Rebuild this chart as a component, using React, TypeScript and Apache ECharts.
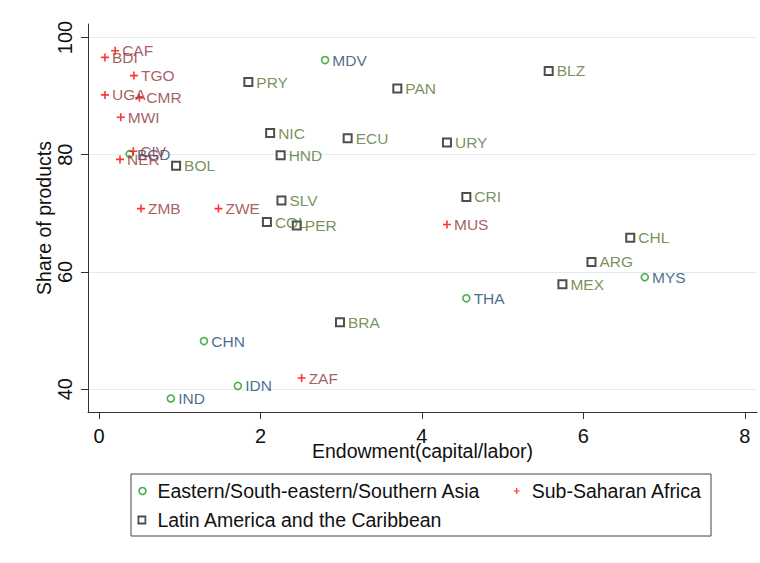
import React, { useEffect, useRef } from "react";
import * as echarts from "echarts";

const asiaNames = ["MDV", "CHN", "IDN", "IND", "THA", "MYS", "BGD"];
const asiaX = [2.8, 1.3, 1.72, 0.89, 4.55, 6.76, 0.38];
const asiaY = [96.15, 48.2, 40.55, 38.4, 55.5, 59.1, 80.1];

const africaNames = ["CAF", "BDI", "TGO", "UGA", "CMR", "MWI", "CIV", "NER", "ZMB", "ZWE", "MUS", "ZAF"];
const africaX = [0.2, 0.074, 0.433, 0.074, 0.5, 0.27, 0.425, 0.26, 0.52, 1.48, 4.31, 2.51];
const africaY = [97.74, 96.6, 93.5, 90.2, 89.7, 86.4, 80.6, 79.2, 70.8, 70.8, 68.1, 41.9];

const latamNames = ["PRY", "PAN", "BLZ", "NIC", "ECU", "URY", "HND", "BOL", "SLV", "CRI", "COL", "PER", "BRA", "CHL", "ARG", "MEX"];
const latamX = [1.85, 3.695, 5.57, 2.12, 3.08, 4.31, 2.25, 0.955, 2.26, 4.55, 2.08, 2.45, 2.985, 6.58, 6.1, 5.74];
const latamY = [92.4, 91.3, 94.3, 83.7, 82.8, 82.1, 79.9, 78.1, 72.2, 72.8, 68.5, 67.9, 51.4, 65.85, 61.7, 57.9];

const xTicks = [0, 2, 4, 6, 8];
const yTicks = [40, 60, 80, 100];

const seriesNames = [
  "Eastern/South-eastern/Southern Asia",
  "Sub-Saharan Africa",
  "Latin America and the Caribbean",
];

const FONT = '"Liberation Sans", Arial, sans-serif';
const PLUS = "path://M2.8,0H4.2V2.8H7V4.2H4.2V7H2.8V4.2H0V2.8H2.8Z";

const asiaStyle = { color: "#fff", borderColor: "#1f9a1f", borderWidth: 1.6 };
const africaStyle = { color: "#ff0000", borderWidth: 0 };
const latamStyle = { color: "#fff", borderColor: "#222", borderWidth: 2 };

function pts(names: string[], xs: number[], ys: number[]) {
  return names.map((n, i) => ({ name: n, value: [xs[i], ys[i]] }));
}

export default function App() {
  const ref = useRef<HTMLDivElement>(null);
  useEffect(() => {
    if (!ref.current) return;
    const chart = echarts.init(ref.current, null, { renderer: "svg" });
    const labelBase = {
      show: true,
      position: "right" as const,
      distance: 3,
      formatter: "{b}",
      fontFamily: FONT,
      fontSize: 15.5,
    };
    const legendText = (pad: number) => ({
      fontFamily: FONT,
      fontSize: 19.5,
      color: "#111",
      lineHeight: 24,
      padding: [0, 0, 0, pad],
    });
    chart.setOption({
      animation: false,
      backgroundColor: "#fff",
      grid: { left: 88, right: 3, top: 24, bottom: 151, containLabel: false },
      xAxis: {
        type: "value",
        min: -0.136,
        max: 8.15,
        name: "Endowment(capital/labor)",
        nameLocation: "middle",
        nameGap: 29,
        nameMoveOverlap: false,
        nameTextStyle: { fontFamily: FONT, fontSize: 19.5, color: "#111" },
        axisLine: { show: true, onZero: false, lineStyle: { color: "#333", width: 1 } },
        axisTick: { show: true, length: 7, customValues: xTicks, lineStyle: { color: "#333" } },
        axisLabel: { customValues: xTicks, margin: 14, fontFamily: FONT, fontSize: 20, color: "#111" },
        splitLine: { show: false },
      },
      yAxis: {
        type: "value",
        min: 36.1,
        max: 102.3,
        name: "Share of products",
        nameLocation: "middle",
        nameGap: 34,
        nameMoveOverlap: false,
        nameTextStyle: { fontFamily: FONT, fontSize: 19.5, color: "#111" },
        axisLine: { show: true, onZero: false, lineStyle: { color: "#333", width: 1 } },
        axisTick: { show: true, length: 7, customValues: yTicks, lineStyle: { color: "#333" } },
        axisLabel: { customValues: yTicks, rotate: 90, margin: 13, fontFamily: FONT, fontSize: 20, color: "#111" },
        splitLine: { show: true, lineStyle: { color: "#e3ebee", width: 1 } },
      },
      legend: [
        {
          data: [{ name: seriesNames[0], icon: "circle", itemStyle: asiaStyle }],
          left: 138.2,
          top: 479,
          padding: 0,
          itemWidth: 7,
          itemHeight: 7,
          textStyle: legendText(6.5),
        },
        {
          data: [{ name: seriesNames[1], icon: PLUS, itemStyle: { color: "#ff0000" } }],
          left: 513.7,
          top: 479,
          padding: 0,
          itemWidth: 6,
          itemHeight: 6,
          textStyle: legendText(7),
        },
        {
          data: [{ name: seriesNames[2], icon: "rect", itemStyle: { ...latamStyle, borderWidth: 1.8 } }],
          left: 137.5,
          top: 508,
          padding: 0,
          itemWidth: 7,
          itemHeight: 7,
          textStyle: legendText(7),
        },
      ],
      graphic: [
        {
          type: "rect",
          shape: { x: 131, y: 474, width: 580, height: 62 },
          style: { fill: "none", stroke: "#444", lineWidth: 1 },
          silent: true,
        },
      ],
      series: [
        {
          name: seriesNames[0],
          type: "scatter",
          symbol: "circle",
          symbolSize: 7,
          itemStyle: asiaStyle,
          label: { ...labelBase, color: "#1a476f" },
          data: pts(asiaNames, asiaX, asiaY),
        },
        {
          name: seriesNames[1],
          type: "scatter",
          symbol: PLUS,
          symbolSize: 8,
          itemStyle: africaStyle,
          label: { ...labelBase, color: "#90353b" },
          data: pts(africaNames, africaX, africaY),
        },
        {
          name: seriesNames[2],
          type: "scatter",
          symbol: "rect",
          symbolSize: 8,
          itemStyle: latamStyle,
          label: { ...labelBase, color: "#55752f" },
          data: pts(latamNames, latamX, latamY),
        },
      ],
    });
    return () => chart.dispose();
  }, []);
  return <div ref={ref} style={{ width: 760, height: 563, position: "absolute", left: 0, top: 0 }} />;
}
